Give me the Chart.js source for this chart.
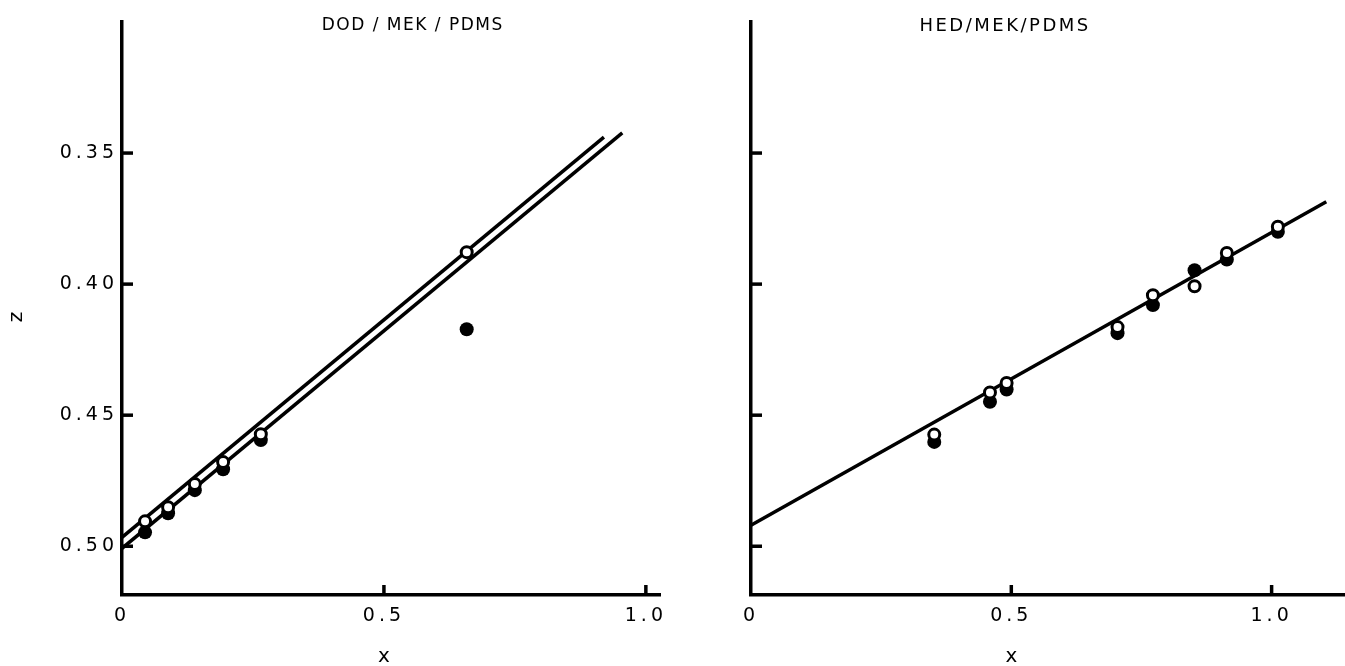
<!DOCTYPE html>
<html>
<head>
<meta charset="utf-8">
<script src="https://cdn.jsdelivr.net/npm/chart.js@4.4.1/dist/chart.umd.min.js"></script>
<style>
  html, body { margin: 0; padding: 0; background: #fff; }
  #wrap { position: relative; width: 1345px; height: 666px; overflow: hidden; }
  #left { position: absolute; left: 0; top: 0; }
  #right { position: absolute; left: 700px; top: 0; }
</style>
</head>
<body>
<div id="wrap">
  <canvas id="left" width="700" height="666"></canvas>
  <canvas id="right" width="653" height="666"></canvas>
</div>
<script>
// axis ticks
var xTicks = [0, 0.5, 1.0];
var yTicks = [0.35, 0.40, 0.45, 0.50];
var xTitle = 'x';
var yTitle = 'z';

// DOD/MEK/PDMS panel
var dodTitle = 'DOD / MEK / PDMS';
var dodX      = [0.044, 0.088, 0.139, 0.193, 0.265, 0.658];
var dodOpen   = [0.4905, 0.4851, 0.4763, 0.4679, 0.4573, 0.3878];
var dodFilled = [0.4947, 0.4874, 0.4786, 0.4706, 0.4595, 0.4172];
var dodUpperX = [0, 0.92];
var dodUpperZ = [0.4966, 0.3439];
var dodLowerX = [0, 0.955];
var dodLowerZ = [0.5008, 0.3423];

// HED/MEK/PDMS panel
var hedTitle = 'HED/MEK/PDMS';
var hedX      = [0.352, 0.459, 0.491, 0.704, 0.772, 0.852, 0.914, 1.012];
var hedOpen   = [0.4574, 0.4413, 0.4377, 0.4164, 0.4042, 0.4008, 0.3881, 0.3781];
var hedFilled = [0.4602, 0.4449, 0.4402, 0.4187, 0.4080, 0.3947, 0.3906, 0.3800];
var hedLineX  = [0, 1.105];
var hedLineZ  = [0.492, 0.3686];

var FONT = '"DejaVu Sans", sans-serif';

function pts(xs, ys) {
  return xs.map(function (x, i) { return { x: x, y: ys[i] }; });
}

// inward tick marks, panel title, axis titles
var decor = {
  id: 'decor',
  beforeDraw: function (chart) {
    chart.ctx.letterSpacing = '4px';
  },
  afterDraw: function (chart, args, o) {
    var ctx = chart.ctx, xs = chart.scales.x, ys = chart.scales.y;
    ctx.save();
    ctx.strokeStyle = '#000';
    ctx.lineWidth = 3.5;
    xTicks.forEach(function (v) {
      if (v === 0) return;
      var px = xs.getPixelForValue(v);
      ctx.beginPath(); ctx.moveTo(px, xs.top); ctx.lineTo(px, xs.top - 10); ctx.stroke();
    });
    yTicks.forEach(function (v) {
      var py = ys.getPixelForValue(v);
      ctx.beginPath(); ctx.moveTo(ys.right, py); ctx.lineTo(ys.right + 11, py); ctx.stroke();
    });
    ctx.fillStyle = '#000';
    ctx.textAlign = 'center';
    ctx.textBaseline = 'middle';
    ctx.letterSpacing = o.titleSpacing;
    ctx.font = o.titleSize + 'px ' + FONT;
    ctx.fillText(o.title, xs.getPixelForValue(o.titleAt), 26);
    ctx.letterSpacing = '0px';
    ctx.font = '20px ' + FONT;
    ctx.fillText(xTitle, xs.getPixelForValue(0.5), 657);
    if (o.showZ) {
      ctx.translate(17, 317);
      ctx.rotate(-Math.PI / 2);
      ctx.fillText(yTitle, 0, 0);
    }
    ctx.restore();
  }
};

function makePanel(id, cfg) {
  var datasets = [
    { data: pts(cfg.x, cfg.open), showLine: false, pointRadius: 5.5, pointBorderWidth: 3,
      pointBackgroundColor: '#fff', pointBorderColor: '#000', order: 0 },
    { data: pts(cfg.x, cfg.filled), showLine: false, pointRadius: 7, pointBorderWidth: 0,
      pointBackgroundColor: '#000', pointBorderColor: '#000', order: 1 }
  ];
  cfg.lines.forEach(function (l) {
    datasets.push({ data: pts(l[0], l[1]), showLine: true, borderColor: '#000', borderWidth: 3.5,
      pointRadius: 0, order: 2 });
  });
  return new Chart(document.getElementById(id), {
    type: 'scatter',
    data: { datasets: datasets },
    options: {
      responsive: false,
      animation: false,
      layout: { padding: { top: 22, right: cfg.padRight, left: 0, bottom: 0 } },
      plugins: {
        legend: { display: false },
        tooltip: { enabled: false },
        decor: { title: cfg.title, titleAt: cfg.titleAt, titleSize: cfg.titleSize,
                 titleSpacing: cfg.titleSpacing, showZ: cfg.showY }
      },
      scales: {
        x: {
          type: 'linear', min: 0, max: cfg.xMax,
          afterBuildTicks: function (s) { s.ticks = xTicks.map(function (v) { return { value: v }; }); },
          afterFit: function (s) { s.height = 71; },
          ticks: {
            autoSkip: false, maxRotation: 0, padding: 10, color: '#000',
            font: { family: FONT, size: 19 },
            callback: function (v) { return v === 0 ? '0' : v.toFixed(1); }
          },
          grid: { display: false, drawTicks: false },
          border: { display: true, color: '#000', width: 3.5 }
        },
        y: {
          type: 'linear', reverse: true, min: 0.30, max: 0.5186,
          afterBuildTicks: function (s) { s.ticks = yTicks.map(function (v) { return { value: v }; }); },
          afterFit: function (s) { s.width = cfg.yWidth; },
          ticks: {
            display: cfg.showY, padding: 4, color: '#000',
            font: { family: FONT, size: 19 },
            callback: function (v) { return v.toFixed(2); }
          },
          grid: { display: false, drawTicks: false },
          border: { display: true, color: '#000', width: 3.5 }
        }
      }
    },
    plugins: [decor]
  });
}

makePanel('left', {
  x: dodX, open: dodOpen, filled: dodFilled,
  lines: [[dodUpperX, dodUpperZ], [dodLowerX, dodLowerZ]],
  title: dodTitle, titleAt: 0.555, titleSize: 17, titleSpacing: '1.5px',
  xMax: 1.027, padRight: 40, yWidth: 122, showY: true
});

makePanel('right', {
  x: hedX, open: hedOpen, filled: hedFilled,
  lines: [[hedLineX, hedLineZ]],
  title: hedTitle, titleAt: 0.488, titleSize: 18, titleSpacing: '2.5px',
  xMax: 1.14, padRight: 0, yWidth: 51, showY: false
});
</script>
</body>
</html>
